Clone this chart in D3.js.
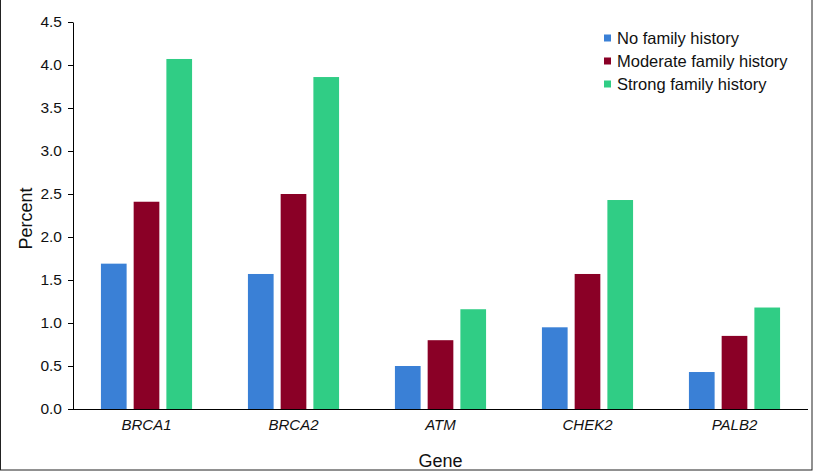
<!DOCTYPE html>
<html>
<head>
<meta charset="utf-8">
<script src="https://cdn.jsdelivr.net/npm/d3@7"></script>
<style>
  html, body { margin: 0; padding: 0; background: #fff; }
  svg { display: block; font-family: "Liberation Sans", Arial, Helvetica, sans-serif; }
</style>
</head>
<body>
<div id="chart"></div>
<script>
const genes = ['BRCA1', 'BRCA2', 'ATM', 'CHEK2', 'PALB2'];
const seriesNames = ['No family history', 'Moderate family history', 'Strong family history'];
const noHistory = [1.69, 1.57, 0.50, 0.95, 0.43];
const moderateHistory = [2.41, 2.50, 0.80, 1.57, 0.85];
const strongHistory = [4.07, 3.86, 1.16, 2.43, 1.18];
const yTicks = [0, 0.5, 1, 1.5, 2, 2.5, 3, 3.5, 4, 4.5];

const colors = ['#3a80d6', '#8a0026', '#30cd85'];
const seriesValues = [noHistory, moderateHistory, strongHistory];

const width = 814, height = 472;
const plot = { left: 73, right: 808, top: 22, bottom: 409 };

const svg = d3.select('#chart').append('svg')
  .attr('width', width)
  .attr('height', height);

// frame around the figure
svg.append('rect')
  .attr('x', 0.5).attr('y', -2)
  .attr('width', 811.5).attr('height', 472)
  .attr('fill', 'none')
  .attr('stroke', '#222')
  .attr('stroke-width', 1);

const x = d3.scaleBand()
  .domain(genes)
  .range([plot.left, plot.right])
  .paddingInner(0.38)
  .paddingOuter(0.19);

const xInner = d3.scaleBand()
  .domain(d3.range(seriesNames.length))
  .range([0, x.bandwidth()])
  .paddingInner(0.215)
  .paddingOuter(0);

const y = d3.scaleLinear().domain([0, 4.5]).range([plot.bottom, plot.top]);

// bars
const groups = svg.append('g').selectAll('g')
  .data(genes)
  .join('g')
  .attr('transform', d => `translate(${x(d)},0)`);

groups.selectAll('rect')
  .data((g, gi) => seriesValues.map((vals, si) => ({ si, v: vals[gi] })))
  .join('rect')
  .attr('x', d => xInner(d.si))
  .attr('y', d => y(d.v))
  .attr('width', xInner.bandwidth())
  .attr('height', d => y(0) - y(d.v))
  .attr('fill', d => colors[d.si]);

// y axis
const yAxis = svg.append('g')
  .attr('transform', `translate(${plot.left},0)`)
  .call(d3.axisLeft(y).tickValues(yTicks).tickFormat(d3.format('.1f')).tickSize(5).tickSizeOuter(0));
yAxis.select('.domain').attr('stroke', '#000');
yAxis.selectAll('.tick line').attr('stroke', '#000');
yAxis.selectAll('.tick text')
  .attr('font-size', 15.5)
  .attr('fill', '#111')
  .attr('x', -11);

// x axis
const xAxis = svg.append('g')
  .attr('transform', `translate(0,${plot.bottom})`)
  .call(d3.axisBottom(x).tickSize(0).tickSizeOuter(0));
xAxis.select('.domain').attr('stroke', '#000').attr('d', `M${plot.left},0.5H${plot.right}`);
xAxis.selectAll('.tick text')
  .attr('font-size', 15)
  .attr('font-style', 'italic')
  .attr('fill', '#111')
  .attr('y', 10);

// axis titles
svg.append('text')
  .attr('x', (plot.left + plot.right) / 2)
  .attr('y', 467)
  .attr('text-anchor', 'middle')
  .attr('font-size', 18)
  .attr('fill', '#111')
  .text('Gene');

svg.append('text')
  .attr('transform', `translate(32,${(plot.top + plot.bottom) / 2 + 3}) rotate(-90)`)
  .attr('text-anchor', 'middle')
  .attr('font-size', 18)
  .attr('fill', '#111')
  .text('Percent');

// legend
const legend = svg.append('g').attr('transform', 'translate(604,38)');
const rows = legend.selectAll('g')
  .data(seriesNames)
  .join('g')
  .attr('transform', (d, i) => `translate(0,${i * 23})`);
rows.append('rect')
  .attr('x', 0).attr('y', -3.5)
  .attr('width', 7).attr('height', 7)
  .attr('fill', (d, i) => colors[i]);
rows.append('text')
  .attr('x', 13)
  .attr('dy', '0.35em')
  .attr('font-size', 16.5)
  .attr('fill', '#111')
  .text(d => d);
</script>
</body>
</html>
